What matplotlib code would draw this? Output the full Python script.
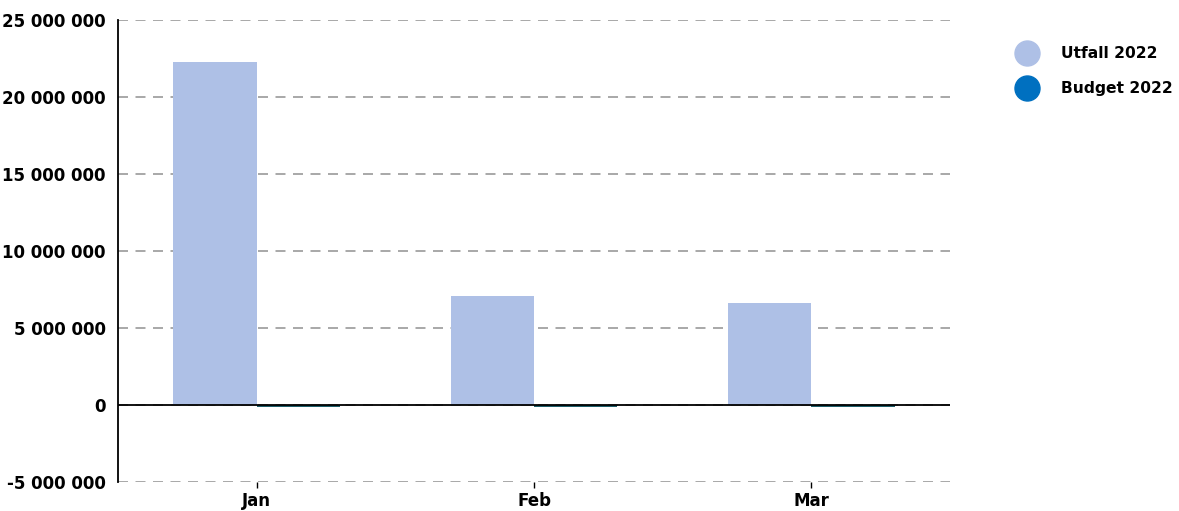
import matplotlib.pyplot as plt
import numpy as np
from matplotlib.lines import Line2D
from matplotlib.ticker import FuncFormatter

months = ['Jan', 'Feb', 'Mar']
utfall = [22300000, 7100000, 6620000]
budget = [-110000, -110000, -110000]
series = ['Utfall 2022', 'Budget 2022']
colors = ['#aec0e6', '#0070c0']

fig = plt.figure(figsize=(11.79, 5.11), dpi=100)
ax = fig.add_axes([0.1001, 0.0568, 0.7057, 0.9041])

x = np.arange(len(months))
w = 0.3
ax.bar(x - w / 2, utfall, w, color=colors[0], zorder=3)
ax.bar(x + w / 2, budget, w, color='#1f5f6b', zorder=3)

ax.set_xlim(-0.5, 2.5)
ax.set_ylim(-5000000, 25000000)
ax.set_yticks(np.arange(-5000000, 25000001, 5000000))
ax.yaxis.set_major_formatter(FuncFormatter(lambda v, p: f'{int(v):,}'.replace(',', ' ')))
ax.grid(axis='y', color='#999999', linestyle=(0, (6, 4.5)), linewidth=1.2, zorder=0)
ax.axhline(0, color='black', linewidth=1.3, zorder=4)

for s in ['top', 'right', 'bottom']:
    ax.spines[s].set_visible(False)
ax.spines['left'].set_linewidth(1.3)

ax.set_xticks(x)
ax.set_xticklabels(months)
ax.tick_params(axis='x', length=4, width=1, pad=3)
ax.tick_params(axis='y', length=0, pad=9)
for lab in ax.get_xticklabels() + ax.get_yticklabels():
    lab.set_fontweight('bold')
    lab.set_fontsize(12)

handles = [Line2D([], [], marker='o', linestyle='none', markersize=18,
                  markerfacecolor=c, markeredgecolor=c) for c in colors]
leg = fig.legend(handles, series, loc='upper left', bbox_to_anchor=(0.851, 0.937),
                 frameon=False, prop={'weight': 'bold', 'size': 11.2},
                 handletextpad=1.6, labelspacing=1.3, handlelength=1.2)

fig.savefig('out.png', dpi=100)
